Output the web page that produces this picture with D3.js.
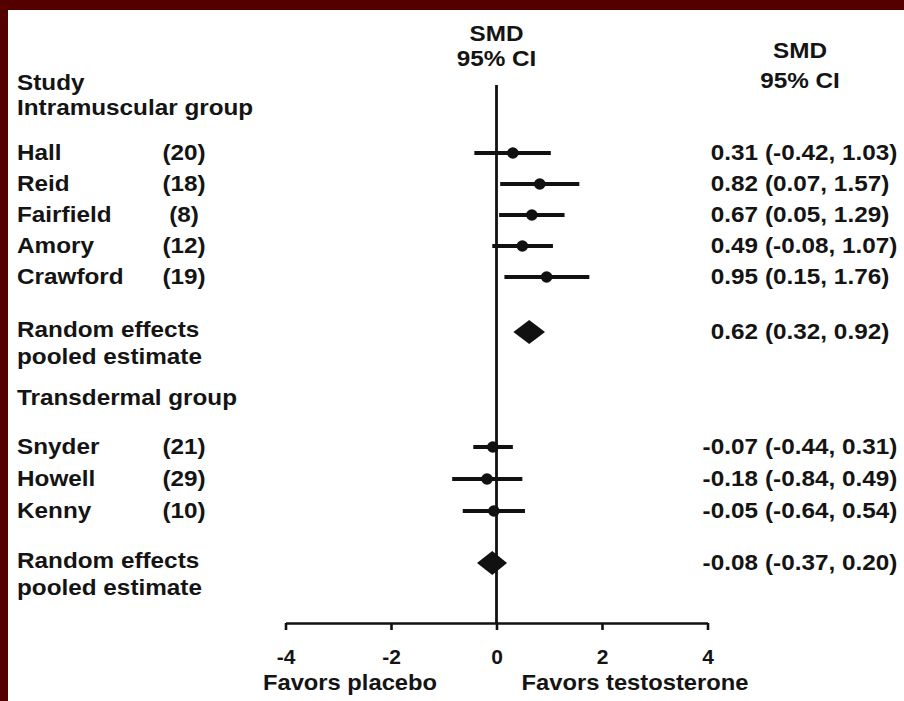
<!DOCTYPE html>
<html>
<head>
<meta charset="utf-8">
<script src="https://cdn.jsdelivr.net/npm/d3@7"></script>
<style>
  html, body { margin: 0; padding: 0; background: #ffffff; }
  svg { display: block; }
  text { font-family: "Liberation Sans", Arial, sans-serif; font-weight: bold; fill: #141414; }
</style>
</head>
<body>
<svg id="chart" width="904" height="701"></svg>
<script>
// ---------------- data ----------------
const groupNames = ["Intramuscular group", "Transdermal group"];

const imStudies = ["Hall", "Reid", "Fairfield", "Amory", "Crawford"];
const imN       = [20, 18, 8, 12, 19];
const imSMD     = [0.31, 0.82, 0.67, 0.49, 0.95];
const imLower   = [-0.42, 0.07, 0.05, -0.08, 0.15];
const imUpper   = [1.03, 1.57, 1.29, 1.07, 1.76];
const imPooled  = [0.62, 0.32, 0.92];   // estimate, lower, upper

const tdStudies = ["Snyder", "Howell", "Kenny"];
const tdN       = [21, 29, 10];
const tdSMD     = [-0.07, -0.18, -0.05];
const tdLower   = [-0.44, -0.84, -0.64];
const tdUpper   = [0.31, 0.49, 0.54];
const tdPooled  = [-0.08, -0.37, 0.20];

const xTicks = [-4, -2, 0, 2, 4];
const xLabels = ["Favors placebo", "Favors testosterone"];
const headerLines = ["SMD", "95% CI"];
const studyHeader = "Study";
const pooledLabel = ["Random effects", "pooled estimate"];

// ---------------- layout ----------------
const W = 904, H = 701;
const FS = 21.5, SX = 1.13;           // font size, horizontal stretch
const svg = d3.select("#chart");

svg.append("rect").attr("width", W).attr("height", H).attr("fill", "#ffffff");
svg.append("rect").attr("x", 0).attr("y", 0).attr("width", W).attr("height", 10).attr("fill", "#550000");
svg.append("rect").attr("x", 0).attr("y", 0).attr("width", 8).attr("height", H).attr("fill", "#550000");

const x = d3.scaleLinear().domain([-4, 4]).range([285.5, 707.5]);

function txt(px, py, s, anchor = "start", fs = FS, sx = SX) {
  return svg.append("text")
    .attr("transform", `translate(${px},${py}) scale(${sx},1)`)
    .attr("text-anchor", anchor)
    .attr("font-size", fs)
    .text(s);
}
const fmt = v => v.toFixed(2);

// row positions (layout)
const g1Start = 153, g1Step = 31, g1PoolGap = 55;
const g2Start = 447, g2Step = 32, g2PoolGap = 52;
const groups = [
  { name: groupNames[0], headerY: 115, studies: imStudies, n: imN, est: imSMD, lo: imLower, hi: imUpper, pooled: imPooled, start: g1Start, step: g1Step, gap: g1PoolGap },
  { name: groupNames[1], headerY: 405, studies: tdStudies, n: tdN, est: tdSMD, lo: tdLower, hi: tdUpper, pooled: tdPooled, start: g2Start, step: g2Step, gap: g2PoolGap }
];

const axisY = 623;
const zeroTop = 85;

// zero line
svg.append("line")
  .attr("x1", x(0)).attr("x2", x(0))
  .attr("y1", zeroTop).attr("y2", axisY)
  .attr("stroke", "#111").attr("stroke-width", 2.8);

// headers
txt(17, 90, studyHeader);
txt(x(0), 41, headerLines[0], "middle");
txt(x(0), 66, headerLines[1], "middle");
txt(800, 58, headerLines[0], "middle");
txt(800, 88, headerLines[1], "middle");

const estRight = 758, ciLeft = 765;

groups.forEach(g => {
  txt(17, g.headerY, g.name);
  const ys = g.studies.map((_, i) => g.start + i * g.step);
  g.studies.forEach((s, i) => {
    const y = ys[i];
    txt(17, y + 7, s);
    txt(184, y + 7, `(${g.n[i]})`, "middle");
    txt(estRight, y + 7, fmt(g.est[i]), "end");
    txt(ciLeft, y + 7, `(${fmt(g.lo[i])}, ${fmt(g.hi[i])})`, "start");
    svg.append("line")
      .attr("x1", x(g.lo[i])).attr("x2", x(g.hi[i]))
      .attr("y1", y).attr("y2", y)
      .attr("stroke", "#111").attr("stroke-width", 4);
    svg.append("circle")
      .attr("cx", x(g.est[i])).attr("cy", y).attr("r", 5.8)
      .attr("fill", "#111");
  });
  const py = ys[ys.length - 1] + g.gap;
  const [pe, pl, pu] = g.pooled;
  const hh = 12;
  svg.append("path")
    .attr("d", `M${x(pl)},${py} L${x(pe)},${py - hh} L${x(pu)},${py} L${x(pe)},${py + hh} Z`)
    .attr("fill", "#111");
  txt(17, py + 5, pooledLabel[0]);
  txt(17, py + 32, pooledLabel[1]);
  txt(estRight, py + 7, fmt(pe), "end");
  txt(ciLeft, py + 7, `(${fmt(pl)}, ${fmt(pu)})`, "start");
});

// axis
const axis = d3.axisBottom(x).tickValues(xTicks).tickSize(7).tickSizeOuter(0).tickFormat(d3.format("d"));
const ag = svg.append("g").attr("transform", `translate(0,${axisY})`).call(axis);
ag.select(".domain").attr("stroke", "#111").attr("stroke-width", 2.6);
ag.selectAll(".tick line").attr("stroke", "#111").attr("stroke-width", 2.6);
ag.selectAll(".tick text")
  .attr("y", 0).attr("dy", null)
  .attr("transform", "translate(0,41) scale(1.05,1)")
  .attr("font-size", 20)
  .attr("font-family", "Liberation Sans, Arial, sans-serif")
  .attr("font-weight", "bold")
  .attr("fill", "#141414")
  .text(d => String(d).replace("\u2212", "-"));

txt(350, 690, xLabels[0], "middle", 22, 1.08);
txt(635, 690, xLabels[1], "middle", 22, 1.08);
</script>
</body>
</html>
